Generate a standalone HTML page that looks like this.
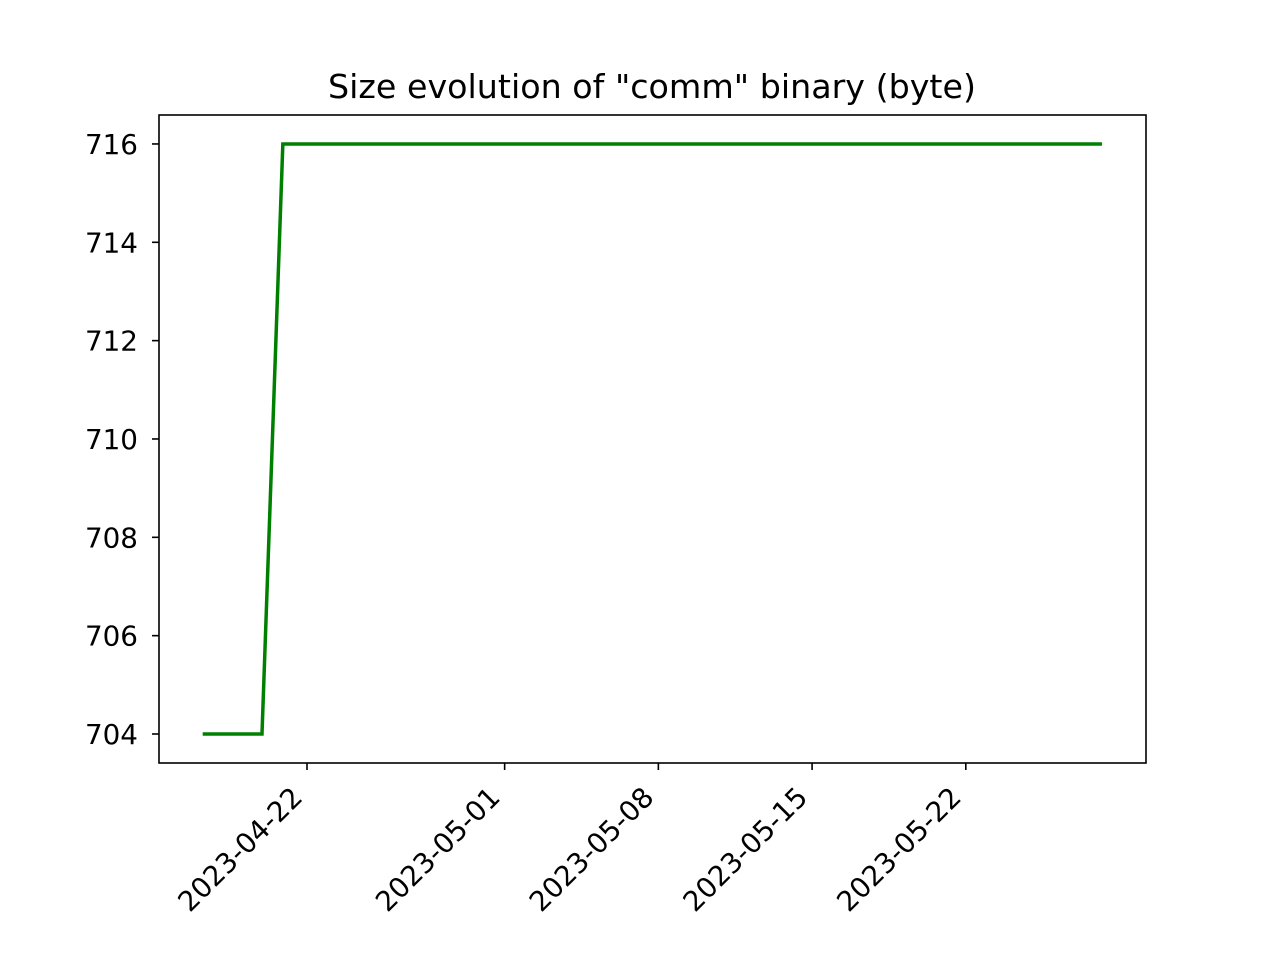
<!DOCTYPE html>
<html><head><meta charset="utf-8"><style>body{margin:0;background:#fff}svg{display:block}text{font-family:"DejaVu Sans","Liberation Sans",sans-serif;fill:#000}</style></head>
<body>
<svg id="chart" width="1273" height="955">
<rect x="0" y="0" width="1273" height="955" fill="#fff"/>
<text x="652" y="98" font-size="33.3" text-anchor="middle">Size evolution of "comm" binary (byte)</text>
<g id="plot"></g>
<rect x="159" y="115" width="987" height="648" fill="none" stroke="#000" stroke-width="1.6"/>
</svg>
<script>
// days relative to 2023-04-22
const dayOffsets = [-4.75, -2.05, -1.1, 36.2];
const sizes = [704, 704, 716, 716];
const xTickDays = [0, 9, 16, 23, 30];
const xTickLabels = ["2023-04-22", "2023-05-01", "2023-05-08", "2023-05-15", "2023-05-22"];
const yTicks = [704, 706, 708, 710, 712, 714, 716];

const ns = "http://www.w3.org/2000/svg";
const g = document.getElementById("plot");
const xs = d => 307 + d * 21.96;
const ys = v => 734 - (v - 704) * 49.17;
function mk(t, a){const e=document.createElementNS(ns,t);for(const k in a)e.setAttribute(k,a[k]);g.appendChild(e);return e;}

yTicks.forEach(v=>{
  const y=ys(v);
  const l=mk("line",{x1:152,x2:159,y1:y,y2:y,stroke:"#000","stroke-width":1.6});
  
  
  const t=mk("text",{x:138,y:y+10,"font-size":27.8,"text-anchor":"end"});
  t.textContent=v;
  
  
});
xTickDays.forEach((d,i)=>{
  const x=xs(d);
  const l=mk("line",{x1:x,x2:x,y1:763,y2:770,stroke:"#000","stroke-width":1.6});
  
  
  const t=mk("text",{x:x-3,y:799,"font-size":27.8,"text-anchor":"end",transform:`rotate(-45 ${x-3} 799)`});
  t.textContent=xTickLabels[i];
  
  
});
const pts=dayOffsets.map((d,i)=>xs(d)+","+ys(sizes[i])).join(" ");
const line=mk("polyline",{points:pts,fill:"none",stroke:"#008000","stroke-width":3.5});


</script>
</body></html>
